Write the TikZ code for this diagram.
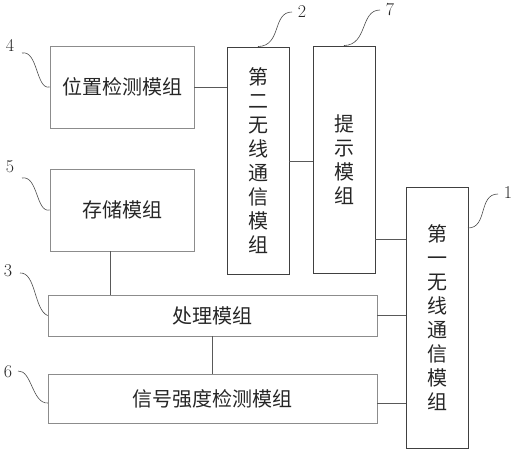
\documentclass[tikz,border=0pt]{standalone}
\usepackage{fontspec}
\newfontfamily\cjk{Noto Sans CJK SC}
\begin{document}
\begin{tikzpicture}[x=1pt,y=-1pt,
  lbox/.style={draw=black!45,line width=0.8pt,inner sep=0pt,font=\cjk\fontsize{20}{24}\selectfont,text=black!85},
  vbox/.style={draw=black!75,line width=0.9pt,inner sep=0pt,align=center,font=\cjk\fontsize{20}{24}\selectfont,text=black!85},
  wire/.style={draw=black!65,line width=0.8pt},
  lead/.style={draw=black!70,line width=0.6pt},
  num/.style={font=\fontsize{18}{18}\selectfont,text=black!85,inner sep=0pt}]
\useasboundingbox (0,0) rectangle (514,450);
% boxes
\node[lbox,minimum width=144,minimum height=82] (b4) at (122,87) {位置检测模组};
\node[lbox,minimum width=144,minimum height=82] (b5) at (122,210) {存储模组};
\node[lbox,minimum width=329,minimum height=41] (b3) at (212.5,315.5) {处理模组};
\node[lbox,minimum width=329,minimum height=49] (b6) at (212.5,398.5) {信号强度检测模组};
\node[vbox,minimum width=62,minimum height=227] (b2) at (258,160.5) {第\\二\\无\\线\\通\\信\\模\\组};
\node[vbox,minimum width=62,minimum height=227] (b7) at (344,159.5) {提\\示\\模\\组};
\node[vbox,minimum width=62,minimum height=261] (b1) at (437,317.5) {第\\一\\无\\线\\通\\信\\模\\组};
% connector helper coordinates
\coordinate (y27) at (0,161);
\coordinate (y71) at (0,239);
\coordinate (y61) at (0,403);
\coordinate (x53) at (110,0);
% connectors
\draw[wire] (b4.east) -- (b4.east -| b2.west);
\draw[wire] (b2.east |- y27) -- (b7.west |- y27);
\draw[wire] (b7.east |- y71) -- (b1.west |- y71);
\draw[wire] (b5.south -| x53) -- (b3.north -| x53);
\draw[wire] (b3.east) -- (b3.east -| b1.west);
\draw[wire] (b3.south) -- (b6.north);
\draw[wire] (b6.east |- y61) -- (b1.west |- y61);
% labels
\node[num] (n4) at (10,45) {4};
\node[num] (n5) at (10,167) {5};
\node[num] (n3) at (8,271) {3};
\node[num] (n6) at (8,372) {6};
\node[num] (n2) at (302,12) {2};
\node[num] (n7) at (390,10) {7};
\node[num] (n1) at (508,193) {1};
\draw[lead] (22,53) .. controls (38,50) and (36,90) .. (b4.west);
\draw[lead] (22,178) .. controls (38,175) and (36,213) .. (b5.west);
\draw[lead] (20,273) .. controls (36,272) and (34,310) .. (b3.west);
\draw[lead] (18,371) .. controls (32,370) and (32,404) .. (48,403);
\draw[lead] (292,12) .. controls (272,12) and (282,46) .. (b2.north);
\draw[lead] (380,10) .. controls (360,10) and (368,45) .. (b7.north);
\draw[lead] (498,194) .. controls (478,194) and (488,228) .. (468,228);
\end{tikzpicture}
\end{document}
